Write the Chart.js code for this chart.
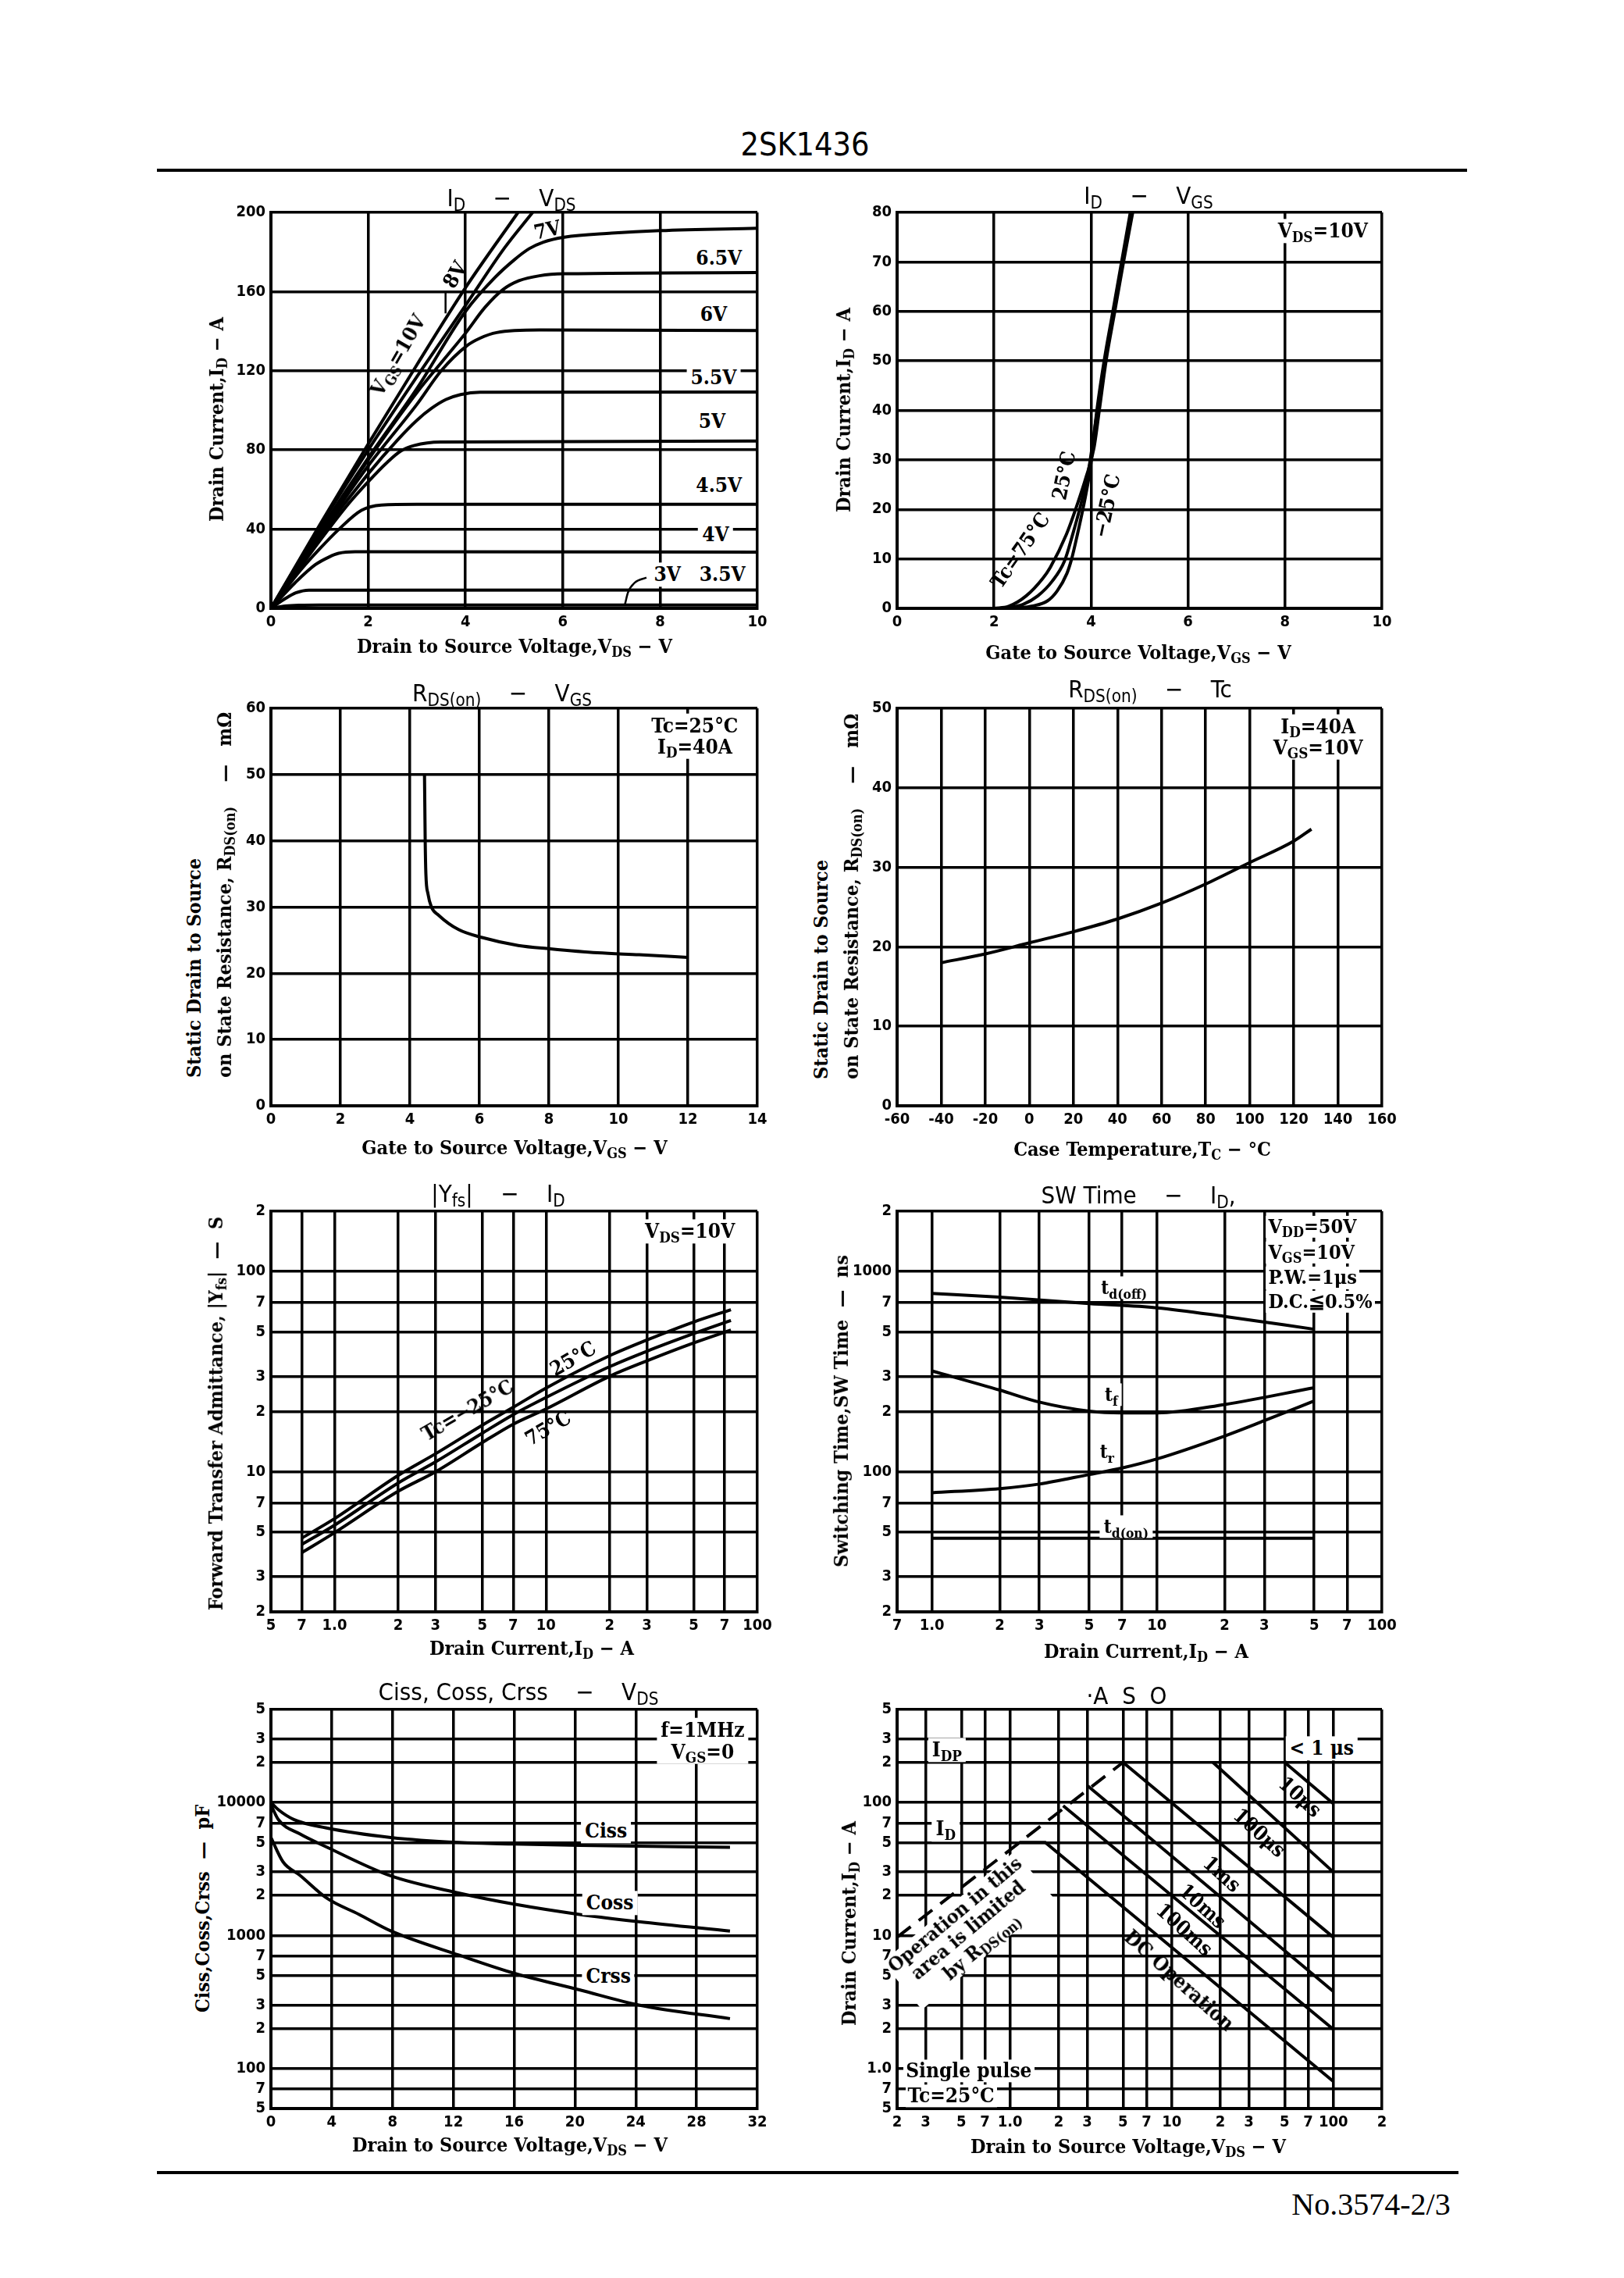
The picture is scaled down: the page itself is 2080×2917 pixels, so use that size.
<!DOCTYPE html>
<html>
<head>
<meta charset="utf-8">
<script src="https://cdn.jsdelivr.net/npm/chart.js@4.4.1/dist/chart.umd.min.js"></script>
<style>
  body { margin: 0; background: #fff; }
  #page { position: relative; width: 2080px; height: 2917px; background: #fff; overflow: hidden; }
  canvas { position: absolute; }
  .t { position: absolute; white-space: nowrap; color: #000; line-height: 1.05; }
  .rule { position: absolute; background: #000; }
  sub { font-size: 0.72em; vertical-align: -0.3em; line-height: 0; }
</style>
</head>
<body>
<div id="page"></div>
<script>
// ---------- data ----------
// I_D - V_DS  [V_DS, I_D]
const vgs10 = [[0,0],[1,42],[2,83],[3,123],[4,162],[5.08,200]];
const vgs8  = [[0,0],[1,41],[2,80],[3,117],[4,153],[4.8,182],[5.38,200]];
const vgs7  = [[0,0],[1,39],[2,76],[3,111],[4,150],[4.6,167],[5.0,176],[5.31,181.7],[5.6,185],[6.03,187.5],[7,189.5],[8,190.8],[10,192]];
const vgs65 = [[0,0],[1,38],[2,75],[3,109],[3.6,127],[4,139],[4.4,152],[4.77,161],[5.1,165.5],[5.52,168],[6.03,169],[10,169.6]];
const vgs6  = [[0,0],[1,37],[2,72],[3,103],[3.5,120],[4.03,132.7],[4.3,136.5],[4.64,139.3],[5.52,140.6],[10,140.3]];
const vgs55 = [[0,0],[1,36],[2,68],[2.6,85],[3,95],[3.3,101],[3.6,105.5],[3.9,108],[4.3,109.2],[10,109.3]];
const vgs5  = [[0,0],[1,34],[1.6,53],[2,64],[2.4,74],[2.67,79.5],[2.95,82.3],[3.49,84],[10,84.5]];
const vgs45 = [[0,0],[0.6,19],[1,30],[1.4,40],[1.86,49.5],[2.27,52.2],[3,52.6],[10,52.6]];
const vgs4  = [[0,0],[0.5,13],[0.91,22],[1.2,26],[1.39,27.8],[1.73,28.6],[10,28.4]];
const vgs35 = [[0,0],[0.3,5],[0.51,7.8],[0.78,9.2],[10,9.3]];
const vgs3  = [[0,0],[0.3,1.2],[0.6,1.6],[1,1.7],[10,1.7]];
const leader3V  = [[7.28,2.2],[7.34,8],[7.48,13],[7.72,15.5]];
const leader10V = [[3.59,160],[3.59,149]];
const idVdsX = [0,2,4,6,8,10];
const idVdsY = [0,40,80,120,160,200];

// I_D - V_GS  [V_GS, I_D]
const tc75  = [[2.0,0],[2.3,0.4],[2.66,2.5],[3.0,6],[3.16,8.3],[3.49,14.9],[3.73,21.4],[3.9,26.6],[4.06,32.4],[4.17,40],[4.31,50],[4.49,60],[4.67,70],[4.86,80]];
const tc25  = [[2.25,0],[2.6,0.8],[2.9,2.5],[3.2,5.5],[3.45,9.5],[3.62,14.9],[3.8,21.4],[3.95,28],[4.13,40],[4.29,50],[4.47,60],[4.65,70],[4.83,80]];
const tcm25 = [[2.4,0],[2.8,0.5],[3.1,1.5],[3.3,3.5],[3.5,7],[3.6,10],[3.72,15],[3.86,21.4],[3.98,28],[4.12,40],[4.27,50],[4.45,60],[4.63,70],[4.81,80]];
const idVgsX = [0,2,4,6,8,10];
const idVgsY = [0,10,20,30,40,50,60,70,80];

// R_DS(on) - V_GS  [V_GS, mOhm]
const rdsVgs = [[4.42,50],[4.43,45],[4.44,40],[4.46,35],[4.52,32],[4.62,30],[4.82,28.8],[5.4,26.6],[6.08,25.4],[7.12,24.2],[8.04,23.7],[9.4,23.1],[10.6,22.8],[12.0,22.4]];
const rdsVgsX = [0,2,4,6,8,10,12,14];
const rdsVgsY = [0,10,20,30,40,50,60];

// R_DS(on) - Tc  [degC, mOhm]
const rdsTc = [[-40,18],[-20,19.1],[0,20.5],[20,21.9],[40,23.5],[60,25.5],[80,27.9],[100,30.6],[120,33.3],[128,34.8]];
const rdsTcX = [-60,-40,-20,0,20,40,60,80,100,120,140,160];
const rdsTcY = [0,10,20,30,40,50];

// |Yfs| - I_D  [A, S]
const yfsM25 = [[0.7,4.67],[1,5.84],[2,9.6],[3,12.3],[5,17.1],[7,21],[10,26.2],[20,38],[30,45.5],[50,56],[75,64.5]];
const yfs25  = [[0.7,4.34],[1,5.42],[2,8.8],[3,11.2],[5,15.6],[7,19.3],[10,23.5],[20,33.5],[30,40],[50,49],[75,57]];
const yfs75  = [[0.7,3.95],[1,4.97],[2,8.0],[3,10],[5,14],[7,17.3],[10,20.6],[20,30],[30,35.8],[50,44],[75,51]];
const yfsX = [0.5,0.7,1,2,3,5,7,10,20,30,50,70,100];
const yfsXLabels = ['5','7','1.0','2','3','5','7','10','2','3','5','7','100'];
const yfsY = [2,3,5,7,10,20,30,50,70,100,200];
const yfsYLabels = ['2','3','5','7','10','2','3','5','7','100','2'];

// SW time - I_D  [A, ns]
const tdOff = [[1,778],[2,745],[5,692],[10,659],[20,597],[50,515]];
const tFall = [[1,319],[2,256],[3,223],[5,201],[7,197],[10,197],[20,217],[50,263]];
const tRise = [[1,78.7],[2,82.5],[3,86.9],[5,97],[7,104.5],[10,116],[20,151],[30,180],[50,226]];
const tdOn  = [[1,46.6],[50,46.6]];
const swX = [0.7,1,2,3,5,7,10,20,30,50,70,100];
const swXLabels = ['7','1.0','2','3','5','7','10','2','3','5','7','100'];
const swY = [20,30,50,70,100,200,300,500,700,1000,2000];
const swYLabels = ['2','3','5','7','100','2','3','5','7','1000','2'];

// Ciss, Coss, Crss - V_DS  [V, pF]
const ciss = [[0,10000],[0.5,8800],[1.5,7450],[3.6,6450],[7.9,5450],[12.4,5000],[16,4870],[20.3,4760],[30.2,4600]];
const coss = [[0,9600],[0.5,7400],[1.9,5800],[3.7,4600],[7.9,2800],[12.4,2080],[16,1720],[20.3,1440],[24.2,1270],[30.2,1080]];
const crss = [[0,5450],[0.8,3570],[1.9,2840],[3.7,1900],[5.8,1440],[7.9,1080],[12.4,710],[16,520],[20.3,390],[24.2,300],[30.2,237]];
const capX = [0,4,8,12,16,20,24,28,32];
const capY = [50,70,100,200,300,500,700,1000,2000,3000,5000,7000,10000,20000,30000,50000];
const capYLabels = ['5','7','100','2','3','5','7','1000','2','3','5','7','10000','2','3','5'];

// ASO  [V_DS, I_D]
const rdsLimit = [[0.2,9.7],[5,200]];
const asoDC    = [[1.14,50],[1.65,50],[100,0.8]];
const aso100ms = [[2.13,94.5],[100,1.97]];
const aso10ms  = [[3.03,133],[100,3.8]];
const aso1ms   = [[5,200],[100,9.7]];
const aso100us = [[18,200],[100,30]];
const aso10us  = [[50,200],[100,98]];
const asoX = [0.2,0.3,0.5,0.7,1,2,3,5,7,10,20,30,50,70,100,200];
const asoXLabels = ['2','3','5','7','1.0','2','3','5','7','10','2','3','5','7','100','2'];
const asoY = [0.5,0.7,1,2,3,5,7,10,20,30,50,70,100,200,300,500];
const asoYLabels = ['5','7','1.0','2','3','5','7','10','2','3','5','7','100','2','3','5'];

// ---------- page layout ----------
const ML = 72, PT = 24, PR = 44, MB = 44;
const COLS = [[347, 970], [1149, 1770]];
const ROWS = [[272, 779], [907, 1416], [1551, 2064], [2189, 2700]];
const SERIF = '"DejaVu Serif Condensed","DejaVu Serif",serif';
const NARROW = '"Liberation Sans Narrow","DejaVu Sans Condensed",sans-serif';
const page = document.getElementById('page');

function put(html, x, y, o = {}) {
  const d = document.createElement('div');
  d.className = 't';
  d.innerHTML = html;
  d.style.left = x + 'px';
  d.style.top = y + 'px';
  d.style.fontFamily = o.font || SERIF;
  d.style.fontSize = (o.size || 26) + 'px';
  d.style.fontWeight = o.thin ? 'normal' : 'bold';
  if (o.bg) { d.style.background = '#fff'; d.style.padding = o.pad || '2px 5px'; }
  if (o.ls) d.style.letterSpacing = o.ls;
  if (o.align) d.style.textAlign = o.align;
  const r = o.rot || 0;
  if (o.start) {
    d.style.transformOrigin = '0 0';
    d.style.transform = `rotate(${r}deg) translate(0,-50%)`;
  } else {
    d.style.transform = `translate(-50%,-50%) rotate(${r}deg)`;
  }
  page.appendChild(d);
  return d;
}

function rule(x, y, w, h) {
  const d = document.createElement('div');
  d.className = 'rule';
  Object.assign(d.style, { left: x + 'px', top: y + 'px', width: w + 'px', height: h + 'px' });
  page.appendChild(d);
}

function ds(pts, o = {}) {
  return Object.assign({
    data: pts.map(p => ({ x: p[0], y: p[1] })),
    showLine: true, borderColor: '#000', borderWidth: 4,
    pointRadius: 0, pointHoverRadius: 0, fill: false,
    cubicInterpolationMode: 'monotone'
  }, o);
}
const straight = { cubicInterpolationMode: 'default', tension: 0 };

function axis(a, isX) {
  return {
    type: a.log ? 'logarithmic' : 'linear',
    position: isX ? 'bottom' : 'left',
    min: a.ticks[0], max: a.ticks[a.ticks.length - 1],
    grid: { color: '#000', lineWidth: 3.5, drawTicks: false },
    border: { color: '#000', width: 4 },
    ticks: {
      color: '#000', autoSkip: false, maxRotation: 0, padding: isX ? 6 : 7,
      font: { family: NARROW, size: 20, weight: 'bold' },
      callback: (v, i) => a.labels ? a.labels[i] : String(v)
    },
    afterBuildTicks: s => { s.ticks = a.ticks.map(v => ({ value: v })); },
    afterFit: s => {
      if (isX) s.height = MB; else s.width = ML;
      s.paddingLeft = s.paddingRight = s.paddingTop = s.paddingBottom = 0;
    }
  };
}

function plot(col, row, xa, ya, sets) {
  const [l, r] = COLS[col], [t, b] = ROWS[row];
  const c = document.createElement('canvas');
  c.width = r - l + ML + PR;
  c.height = b - t + PT + MB;
  c.style.left = (l - ML) + 'px';
  c.style.top = (t - PT) + 'px';
  page.appendChild(c);
  const ch = new Chart(c, {
    type: 'scatter',
    data: { datasets: sets },
    options: {
      responsive: false, animation: false, devicePixelRatio: 1, events: [],
      layout: { padding: { left: 0, top: PT, right: PR, bottom: 0 } },
      plugins: { legend: { display: false }, tooltip: { enabled: false } },
      scales: { x: axis(xa, true), y: axis(ya, false) }
    }
  });
  ch.ox = l - ML;
  ch.oy = t - PT;
  return ch;
}

function note(ch, xv, yv, html, o = {}) {
  return put(html, ch.ox + ch.scales.x.getPixelForValue(xv), ch.oy + ch.scales.y.getPixelForValue(yv), o);
}

const TITLE = { font: NARROW, size: 31, thin: true };
const AXT = { size: 25 };
const SP = '&nbsp;&nbsp;&nbsp;&nbsp;−&nbsp;&nbsp;&nbsp;&nbsp;';

// ---------- header / footer ----------
put('2SK1436', 1031, 186, { font: NARROW, size: 41, thin: true });
rule(201, 216, 1678, 4);
rule(201, 2780, 1667, 4);
put('No.3574-2/3', 1756, 2823, { font: '"Liberation Serif","DejaVu Serif",serif', size: 40, thin: true });

// ---------- 1: I_D - V_DS ----------
const c1 = plot(0, 0, { ticks: idVdsX }, { ticks: idVdsY }, [
  ds(vgs10), ds(vgs8), ds(vgs7), ds(vgs65), ds(vgs6), ds(vgs55),
  ds(vgs5), ds(vgs45), ds(vgs4), ds(vgs35), ds(vgs3),
  ds(leader3V, { borderWidth: 2.5 }), ds(leader10V, Object.assign({ borderWidth: 2.5 }, straight))
]);
put('I<sub>D</sub>' + SP + 'V<sub>DS</sub>', 655, 253, TITLE);
put('Drain to Source Voltage,V<sub>DS</sub> − V', 659, 828, AXT);
put('Drain Current,I<sub>D</sub> − A', 278, 537, Object.assign({ rot: -90 }, AXT));
note(c1, 9.21, 176.7, '6.5V', { bg: true });
note(c1, 9.1, 148.5, '6V', { bg: true });
note(c1, 9.1, 116.4, '5.5V', { bg: true });
note(c1, 9.07, 94.4, '5V', { bg: true });
note(c1, 9.21, 62, '4.5V', { bg: true });
note(c1, 9.14, 37.1, '4V', { bg: true });
note(c1, 9.28, 17.1, '3.5V', { bg: true });
note(c1, 8.15, 17.1, '3V', { bg: true });
note(c1, 5.69, 190.9, '7V', { rot: -12 });
note(c1, 3.79, 168.4, '8V', { rot: -60 });
note(c1, 2.61, 127.7, 'V<sub>GS</sub>=10V', { rot: -60 });

// ---------- 2: I_D - V_GS ----------
const c2 = plot(1, 0, { ticks: idVgsX }, { ticks: idVgsY }, [ds(tc75), ds(tc25), ds(tcm25)]);
put('I<sub>D</sub>' + SP + 'V<sub>GS</sub>', 1471, 250, TITLE);
put('Gate to Source Voltage,V<sub>GS</sub> − V', 1458, 836, AXT);
put('Drain Current,I<sub>D</sub> − A', 1081, 525, Object.assign({ rot: -90 }, AXT));
note(c2, 8.78, 76.2, 'V<sub>DS</sub>=10V', { bg: true });
note(c2, 2.54, 11.6, 'Tc=75°C', { rot: -55 });
note(c2, 3.45, 26.9, '25°C', { rot: -78 });
note(c2, 4.33, 20.7, '−25°C', { rot: -78 });

// ---------- 3: R_DS(on) - V_GS ----------
const c3 = plot(0, 1, { ticks: rdsVgsX }, { ticks: rdsVgsY }, [ds(rdsVgs)]);
put('R<sub>DS(on)</sub>' + SP + 'V<sub>GS</sub>', 643, 887, TITLE);
put('Gate to Source Voltage,V<sub>GS</sub> − V', 659, 1470, AXT);
put('Static Drain to Source', 249, 1380, Object.assign({ rot: -90, start: true }, AXT));
put('on State Resistance, R<sub>DS(on)</sub>&nbsp;&nbsp;&nbsp;&nbsp;—&nbsp;&nbsp;&nbsp;mΩ', 288, 1380, Object.assign({ rot: -90, start: true }, AXT));
note(c3, 12.2, 55.8, 'Tc=25°C<br>I<sub>D</sub>=40A', { bg: true, align: 'center' });

// ---------- 4: R_DS(on) - Tc ----------
const c4 = plot(1, 1, { ticks: rdsTcX }, { ticks: rdsTcY }, [ds(rdsTc)]);
put('R<sub>DS(on)</sub>' + SP + 'Tc', 1473, 882, TITLE);
put('Case Temperature,T<sub>C</sub> − °C', 1463, 1472, AXT);
put('Static Drain to Source', 1052, 1382, Object.assign({ rot: -90, start: true }, AXT));
put('on State Resistance, R<sub>DS(on)</sub>&nbsp;&nbsp;&nbsp;&nbsp;—&nbsp;&nbsp;&nbsp;mΩ', 1091, 1382, Object.assign({ rot: -90, start: true }, AXT));
note(c4, 131, 46.4, 'I<sub>D</sub>=40A<br>V<sub>GS</sub>=10V', { bg: true, align: 'center' });

// ---------- 5: |Yfs| - I_D ----------
const c5 = plot(0, 2, { log: true, ticks: yfsX, labels: yfsXLabels }, { log: true, ticks: yfsY, labels: yfsYLabels },
  [ds(yfsM25), ds(yfs25), ds(yfs75)]);
put('|Y<sub>fs</sub>|' + SP + 'I<sub>D</sub>', 638, 1528, TITLE);
put('Drain Current,I<sub>D</sub> − A', 681, 2111, AXT);
put('Forward Transfer Admittance, |Y<sub>fs</sub>|&nbsp;&nbsp;—&nbsp;&nbsp;S', 277, 1810, Object.assign({ rot: -90 }, AXT));
note(c5, 48, 159, 'V<sub>DS</sub>=10V', { bg: true });
note(c5, 4.28, 20.2, 'Tc=−25°C', { rot: -30 });
note(c5, 13.4, 36.7, '25°C', { rot: -30 });
note(c5, 10.2, 16.5, '75°C', { rot: -30 });

// ---------- 6: SW Time - I_D ----------
const c6 = plot(1, 2, { log: true, ticks: swX, labels: swXLabels }, { log: true, ticks: swY, labels: swYLabels },
  [ds(tdOff), ds(tFall), ds(tRise), ds(tdOn, straight)]);
put('SW Time' + SP + 'I<sub>D</sub>,', 1458, 1530, TITLE);
put('Drain Current,I<sub>D</sub> − A', 1468, 2115, AXT);
put('Switching Time,SW Time&nbsp;&nbsp;—&nbsp;&nbsp;ns', 1078, 1807, Object.assign({ rot: -90 }, AXT));
note(c6, 30.5, 1675, 'V<sub>DD</sub>=50V', { bg: true, start: true, pad: '1px 3px', size: 25 });
note(c6, 30.5, 1248, 'V<sub>GS</sub>=10V', { bg: true, start: true, pad: '1px 3px', size: 25 });
note(c6, 30.5, 929, 'P.W.=1μs', { bg: true, start: true, pad: '1px 3px', size: 25 });
note(c6, 30.5, 705, 'D.C.≦0.5%', { bg: true, start: true, pad: '1px 3px', size: 25 });
note(c6, 7.14, 832, 't<sub>d(off)</sub>', { bg: true, size: 24 });
note(c6, 6.27, 242, 't<sub>f</sub>', { bg: true, size: 24 });
note(c6, 6.0, 125.7, 't<sub>r</sub>', { bg: true, size: 24 });
note(c6, 7.3, 53.4, 't<sub>d(on)</sub>', { bg: true, size: 24 });

// ---------- 7: Ciss, Coss, Crss - V_DS ----------
const c7 = plot(0, 3, { ticks: capX }, { log: true, ticks: capY, labels: capYLabels }, [ds(ciss), ds(coss), ds(crss)]);
put('Ciss, Coss, Crss' + SP + 'V<sub>DS</sub>', 664, 2166, TITLE);
put('Drain to Source Voltage,V<sub>DS</sub> − V', 653, 2747, AXT);
put('Ciss,Coss,Crss&nbsp;&nbsp;—&nbsp;&nbsp;pF', 260, 2444, Object.assign({ rot: -90 }, AXT));
note(c7, 28.4, 29000, 'f=1MHz<br>V<sub>GS</sub>=0', { bg: true, align: 'center' });
note(c7, 22.05, 6100, 'Ciss', { bg: true });
note(c7, 22.3, 1750, 'Coss', { bg: true });
note(c7, 22.2, 490, 'Crss', { bg: true });

// ---------- 8: ASO ----------
const c8 = plot(1, 3, { log: true, ticks: asoX, labels: asoXLabels }, { log: true, ticks: asoY, labels: asoYLabels }, [
  ds(rdsLimit, Object.assign({ borderDash: [22, 13] }, straight)),
  ds(asoDC, straight), ds(aso100ms, straight), ds(aso10ms, straight),
  ds(aso1ms, straight), ds(aso100us, straight), ds(aso10us, straight)
]);
put('·A&nbsp;&nbsp;S&nbsp;&nbsp;O', 1443, 2171, TITLE);
put('Drain to Source Voltage,V<sub>DS</sub> − V', 1445, 2749, AXT);
put('Drain Current,I<sub>D</sub> − A', 1088, 2463, Object.assign({ rot: -90 }, AXT));
note(c8, 0.407, 248, 'I<sub>DP</sub>', { bg: true });
note(c8, 84.7, 256, '&lt; 1 μs', { bg: true });
note(c8, 0.40, 63, 'I<sub>D</sub>', { bg: true });
note(c8, 0.219, 0.96, 'Single pulse', { bg: true, start: true, pad: '1px 3px' });
note(c8, 0.225, 0.62, 'Tc=25°C', { bg: true, start: true, pad: '1px 3px' });
note(c8, 0.553, 10.97, 'Operation in this<br>area is limited<br>by R<sub>DS(on)</sub>', { bg: true, align: 'center', rot: -40, pad: '0 3px', size: 25 });
note(c8, 62.4, 110.5, '10μs', { rot: 42 });
note(c8, 34.8, 59.2, '100μs', { rot: 42 });
note(c8, 20.4, 28.9, '1ms', { rot: 42 });
note(c8, 15.4, 16.5, '10ms', { rot: 42 });
note(c8, 12.0, 11.0, '100ms', { rot: 42 });
note(c8, 11.1, 4.58, 'DC Operation', { rot: 42 });
</script>
</body>
</html>
